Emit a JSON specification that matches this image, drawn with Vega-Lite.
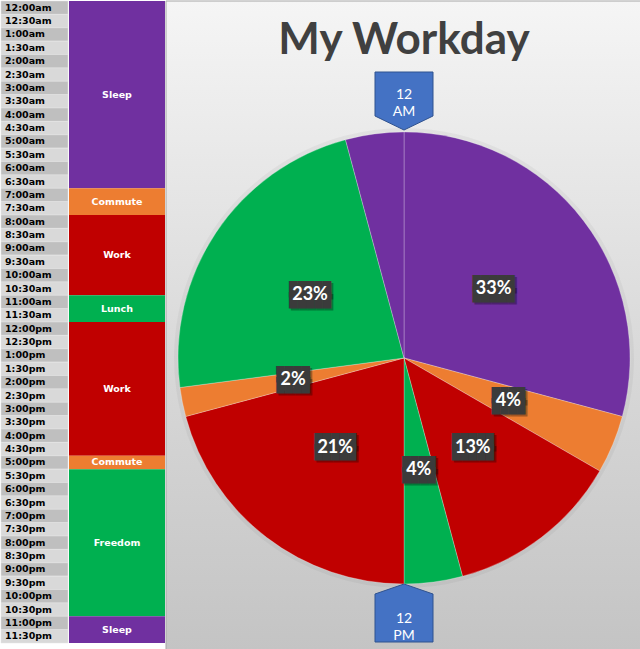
{
  "$schema": "https://vega.github.io/schema/vega-lite/v6.json",
  "padding": 0,
  "spacing": 0,
  "background": "white",
  "config": {"view": {"stroke": null}, "concat": {"spacing": 0}},
  "datasets": {
    "blocks": [
      {"activity": "Sleep", "start": 0, "end": 7, "hours": 7, "pct": "33%"},
      {"activity": "Commute", "start": 7, "end": 8, "hours": 1, "pct": "4%"},
      {"activity": "Work", "start": 8, "end": 11, "hours": 3, "pct": "13%"},
      {"activity": "Lunch", "start": 11, "end": 12, "hours": 1, "pct": "4%"},
      {"activity": "Work", "start": 12, "end": 17, "hours": 5, "pct": "21%"},
      {"activity": "Commute", "start": 17, "end": 17.5, "hours": 0.5, "pct": "2%"},
      {"activity": "Freedom", "start": 17.5, "end": 23, "hours": 5.5, "pct": "23%"},
      {"activity": "Sleep", "start": 23, "end": 24, "hours": 1, "pct": ""}
    ],
    "times": [
      {"time": "12:00am"}, {"time": "12:30am"}, {"time": "1:00am"}, {"time": "1:30am"},
      {"time": "2:00am"}, {"time": "2:30am"}, {"time": "3:00am"}, {"time": "3:30am"},
      {"time": "4:00am"}, {"time": "4:30am"}, {"time": "5:00am"}, {"time": "5:30am"},
      {"time": "6:00am"}, {"time": "6:30am"}, {"time": "7:00am"}, {"time": "7:30am"},
      {"time": "8:00am"}, {"time": "8:30am"}, {"time": "9:00am"}, {"time": "9:30am"},
      {"time": "10:00am"}, {"time": "10:30am"}, {"time": "11:00am"}, {"time": "11:30am"},
      {"time": "12:00pm"}, {"time": "12:30pm"}, {"time": "1:00pm"}, {"time": "1:30pm"},
      {"time": "2:00pm"}, {"time": "2:30pm"}, {"time": "3:00pm"}, {"time": "3:30pm"},
      {"time": "4:00pm"}, {"time": "4:30pm"}, {"time": "5:00pm"}, {"time": "5:30pm"},
      {"time": "6:00pm"}, {"time": "6:30pm"}, {"time": "7:00pm"}, {"time": "7:30pm"},
      {"time": "8:00pm"}, {"time": "8:30pm"}, {"time": "9:00pm"}, {"time": "9:30pm"},
      {"time": "10:00pm"}, {"time": "10:30pm"}, {"time": "11:00pm"}, {"time": "11:30pm"}
    ],
    "markers": [
      {"time": "12 AM", "pos": 1.1615},
      {"time": "12 PM", "pos": -1.1527}
    ],
    "titles": [
      {"title": "My Workday", "pos": 1.345}
    ]
  },
  "hconcat": [
    {
      "width": 67,
      "height": 642,
      "data": {"name": "times"},
      "encoding": {
        "y": {"field": "time", "type": "ordinal", "sort": null, "axis": null,
              "scale": {"paddingInner": 0, "paddingOuter": 0}}
      },
      "layer": [
        {
          "mark": {"type": "rect", "stroke": "#e6e6e6", "strokeWidth": 0.5},
          "encoding": {
            "fill": {"condition": {"test": "indexof(datum.time, ':30') >= 0", "value": "#d9d9d9"}, "value": "#bfbfbf"}
          }
        },
        {
          "mark": {"type": "text", "align": "left", "baseline": "middle", "dx": -29.5,
                   "font": "DejaVu Sans", "fontWeight": "bold", "fontSize": 9.5, "color": "#000000"},
          "encoding": {"text": {"field": "time"}}
        }
      ]
    },
    {
      "width": 96,
      "height": 642,
      "data": {"name": "blocks"},
      "transform": [{"calculate": "(datum.start + datum.end) / 2", "as": "mid"}],
      "layer": [
        {
          "mark": {"type": "rect"},
          "encoding": {
            "y": {"field": "start", "type": "quantitative", "axis": null,
                  "scale": {"domain": [0, 24], "reverse": true, "nice": false, "zero": false}},
            "y2": {"field": "end"},
            "color": {"field": "activity", "type": "nominal", "legend": null,
                      "scale": {"domain": ["Sleep", "Commute", "Work", "Lunch", "Freedom"],
                                "range": ["#7030A0", "#ED7D31", "#C00000", "#00B050", "#00B050"]}}
          }
        },
        {
          "mark": {"type": "text", "font": "DejaVu Sans", "fontWeight": "bold", "fontSize": 9.5, "color": "#ffffff", "baseline": "middle"},
          "encoding": {
            "y": {"field": "mid", "type": "quantitative", "axis": null,
                  "scale": {"domain": [0, 24], "reverse": true, "nice": false, "zero": false}},
            "text": {"field": "activity"}
          }
        }
      ]
    },
    {
      "width": 477,
      "height": 649,
      "layer": [
        {
          "data": {"values": [{}]},
          "mark": {"type": "rect", "stroke": "#a6a6a6", "strokeWidth": 1,
                   "fill": {"gradient": "linear", "x1": 0, "y1": 0, "x2": 0, "y2": 1,
                            "stops": [{"offset": 0, "color": "#f5f5f5"}, {"offset": 0.5, "color": "#dbdbdb"}, {"offset": 1, "color": "#c4c4c4"}]}},
          "encoding": {}
        },
        {
          "data": {"name": "titles"},
          "mark": {"type": "text", "font": "Lato", "fontSize": 44, "fontWeight": "bold", "color": "#404040", "baseline": "alphabetic"},
          "encoding": {
            "x": {"datum": 0, "type": "quantitative", "axis": null, "scale": {"domain": [-1.0531, 1.0575], "nice": false, "zero": false}},
            "y": {"field": "pos", "type": "quantitative", "axis": null, "scale": {"domain": [-1.292, 1.5796], "nice": false, "zero": false}},
            "text": {"field": "title"}
          }
        },
        {
          "data": {"name": "blocks"},
          "mark": {"type": "arc", "outerRadius": 230, "fill": "#000000", "fillOpacity": 0.04},
          "encoding": {
            "x": {"datum": 0, "type": "quantitative"},
            "y": {"datum": 0, "type": "quantitative"},
            "theta": {"field": "hours", "type": "quantitative", "stack": true},
            "order": {"field": "start", "type": "quantitative"}
          }
        },
        {
          "data": {"name": "blocks"},
          "mark": {"type": "arc", "outerRadius": 226, "stroke": "#ffffff", "strokeWidth": 0.6, "strokeOpacity": 0.45},
          "encoding": {
            "x": {"datum": 0, "type": "quantitative"},
            "y": {"datum": 0, "type": "quantitative"},
            "theta": {"field": "hours", "type": "quantitative", "stack": true},
            "order": {"field": "start", "type": "quantitative"},
            "color": {"field": "activity", "type": "nominal", "legend": null,
                      "scale": {"domain": ["Sleep", "Commute", "Work", "Lunch", "Freedom"],
                                "range": ["#7030A0", "#ED7D31", "#C00000", "#00B050", "#00B050"]}}
          }
        },
        {
          "data": {"name": "blocks"},
          "mark": {"type": "text", "radius": 113, "font": "DejaVu Sans Mono", "fontSize": 14, "baseline": "middle", "dx": 2, "dy": -3.5, "color": "#000000", "opacity": 0.3},
          "encoding": {
            "x": {"datum": 0, "type": "quantitative"},
            "y": {"datum": 0, "type": "quantitative"},
            "theta": {"field": "hours", "type": "quantitative", "stack": true},
            "order": {"field": "start", "type": "quantitative"},
            "text": {"condition": [{"test": "datum.pct === ''", "value": ""}, {"test": "length(datum.pct) > 2", "value": "█████"}], "value": "████"}
          }
        },
        {
          "data": {"name": "blocks"},
          "mark": {"type": "text", "radius": 113, "font": "DejaVu Sans Mono", "fontSize": 14, "baseline": "middle", "dx": 2, "dy": 7.5, "color": "#000000", "opacity": 0.3},
          "encoding": {
            "x": {"datum": 0, "type": "quantitative"},
            "y": {"datum": 0, "type": "quantitative"},
            "theta": {"field": "hours", "type": "quantitative", "stack": true},
            "order": {"field": "start", "type": "quantitative"},
            "text": {"condition": [{"test": "datum.pct === ''", "value": ""}, {"test": "length(datum.pct) > 2", "value": "█████"}], "value": "████"}
          }
        },
        {
          "data": {"name": "blocks"},
          "mark": {"type": "text", "radius": 113, "font": "DejaVu Sans Mono", "fontSize": 14, "baseline": "middle", "dy": -5.5, "color": "#3b3b3b"},
          "encoding": {
            "x": {"datum": 0, "type": "quantitative"},
            "y": {"datum": 0, "type": "quantitative"},
            "theta": {"field": "hours", "type": "quantitative", "stack": true},
            "order": {"field": "start", "type": "quantitative"},
            "text": {"condition": [{"test": "datum.pct === ''", "value": ""}, {"test": "length(datum.pct) > 2", "value": "█████"}], "value": "████"}
          }
        },
        {
          "data": {"name": "blocks"},
          "mark": {"type": "text", "radius": 113, "font": "DejaVu Sans Mono", "fontSize": 14, "baseline": "middle", "dy": 5.5, "color": "#3b3b3b"},
          "encoding": {
            "x": {"datum": 0, "type": "quantitative"},
            "y": {"datum": 0, "type": "quantitative"},
            "theta": {"field": "hours", "type": "quantitative", "stack": true},
            "order": {"field": "start", "type": "quantitative"},
            "text": {"condition": [{"test": "datum.pct === ''", "value": ""}, {"test": "length(datum.pct) > 2", "value": "█████"}], "value": "████"}
          }
        },
        {
          "data": {"name": "blocks"},
          "mark": {"type": "text", "radius": 113, "font": "Lato", "fontWeight": "bold", "fontSize": 18, "baseline": "middle", "color": "#ffffff"},
          "encoding": {
            "x": {"datum": 0, "type": "quantitative"},
            "y": {"datum": 0, "type": "quantitative"},
            "theta": {"field": "hours", "type": "quantitative", "stack": true},
            "order": {"field": "start", "type": "quantitative"},
            "text": {"field": "pct"}
          }
        },
        {
          "data": {"name": "markers"},
          "mark": {"type": "point", "filled": true, "fill": "#4472C4", "stroke": "#2F528F", "strokeWidth": 1, "opacity": 1, "size": 3364},
          "encoding": {
            "x": {"datum": 0, "type": "quantitative"},
            "y": {"field": "pos", "type": "quantitative"},
            "shape": {"field": "time", "type": "nominal", "legend": null,
                      "scale": {"domain": ["12 AM", "12 PM"],
                                "range": ["M-1,-0.81L1,-0.81L1,0.707L0,1.19L-1,0.707Z", "M0,-1.19L1,-0.845L1,0.81L-1,0.81L-1,-0.845Z"]}}
          }
        },
        {
          "data": {"name": "markers"},
          "mark": {"type": "text", "font": "Lato", "fontSize": 14, "color": "#ffffff", "lineBreak": " ", "lineHeight": 17, "baseline": "middle"},
          "encoding": {
            "x": {"datum": 0, "type": "quantitative"},
            "y": {"field": "pos", "type": "quantitative"},
            "text": {"field": "time"}
          }
        }
      ]
    }
  ]
}
